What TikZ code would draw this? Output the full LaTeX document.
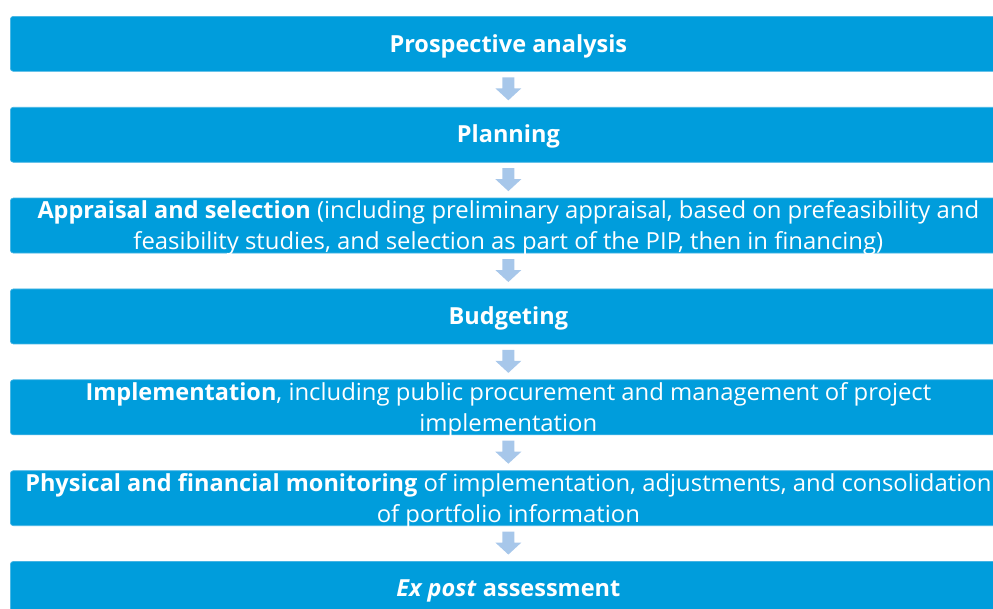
\documentclass[tikz,border=0pt]{standalone}
\usepackage{fontspec}
\setmainfont{Open Sans}[UprightFeatures={FakeStretch=1.016}]
\usetikzlibrary{calc}
\definecolor{boxc}{HTML}{009DDC}
\definecolor{boxedge}{HTML}{45B4E4}
\definecolor{arrowc}{HTML}{A7C7EA}
\begin{document}
\begin{tikzpicture}[x=1pt,y=-1pt,
  box/.style={fill=boxc, draw=boxedge, line width=0.7pt, rounded corners=3pt,
    minimum width=996pt, minimum height=55pt, inner sep=0pt, anchor=north west},
  txt/.style={text=white, font=\fontsize{23.5}{31}\selectfont, inner sep=0pt, anchor=base},
  blockarrow/.style={fill=arrowc}]
\useasboundingbox (0,0) rectangle (993,608);
\clip (0,0) rectangle (993,608);
% boxes
\node[box] (b1) at (10,16) {};
\node[box] (b2) at (10,106.9) {};
\node[box] (b3) at (10,197.7) {};
\node[box] (b4) at (10,288.6) {};
\node[box] (b5) at (10,379.4) {};
\node[box] (b6) at (10,470.3) {};
\node[box] (b7) at (10,561.1) {};
% arrows
\foreach \a/\b in {b1/b2,b2/b3,b3/b4,b4/b5,b5/b6,b6/b7}{
  \coordinate (m-\a) at ($(\a.south)!0.5!(\b.north)$);
  \fill[blockarrow] (m-\a) ++(-6,-12) -- ++(12,0) -- ++(0,11) -- ++(7,0)
    -- ++(-13,12) -- ++(-13,-12) -- ++(7,0) -- cycle;
}
% texts
\node[txt] (t1) at ($(b1.north)+(0,36)$) {\textbf{Prospective analysis}};
\node[txt] (t2) at ($(b2.north)+(0,36)$) {\textbf{Planning}};
\node[txt] (t3a) at ($(b3.north)+(0,21)$) {\textbf{Appraisal and selection} (including preliminary appraisal, based on prefeasibility and};
\node[txt] (t3b) at ($(b3.north)+(0,52)$) {feasibility studies, and selection as part of the PIP, then in financing)};
\node[txt] (t4) at ($(b4.north)+(0,35.5)$) {\textbf{Budgeting}};
\node[txt] (t5a) at ($(b5.north)+(0,21.5)$) {\textbf{Implementation}, including public procurement and management of project};
\node[txt] (t5b) at ($(b5.north)+(0,52)$) {implementation};
\node[txt] (t6a) at ($(b6.north)+(0,21)$) {\textbf{Physical and financial monitoring} of implementation, adjustments, and consolidation};
\node[txt] (t6b) at ($(b6.north)+(0,52)$) {of portfolio information};
\node[txt] (t7) at ($(b7.north)+(0,35.7)$) {\textbf{\textit{Ex post}} \textbf{assessment}};
\end{tikzpicture}
\end{document}
